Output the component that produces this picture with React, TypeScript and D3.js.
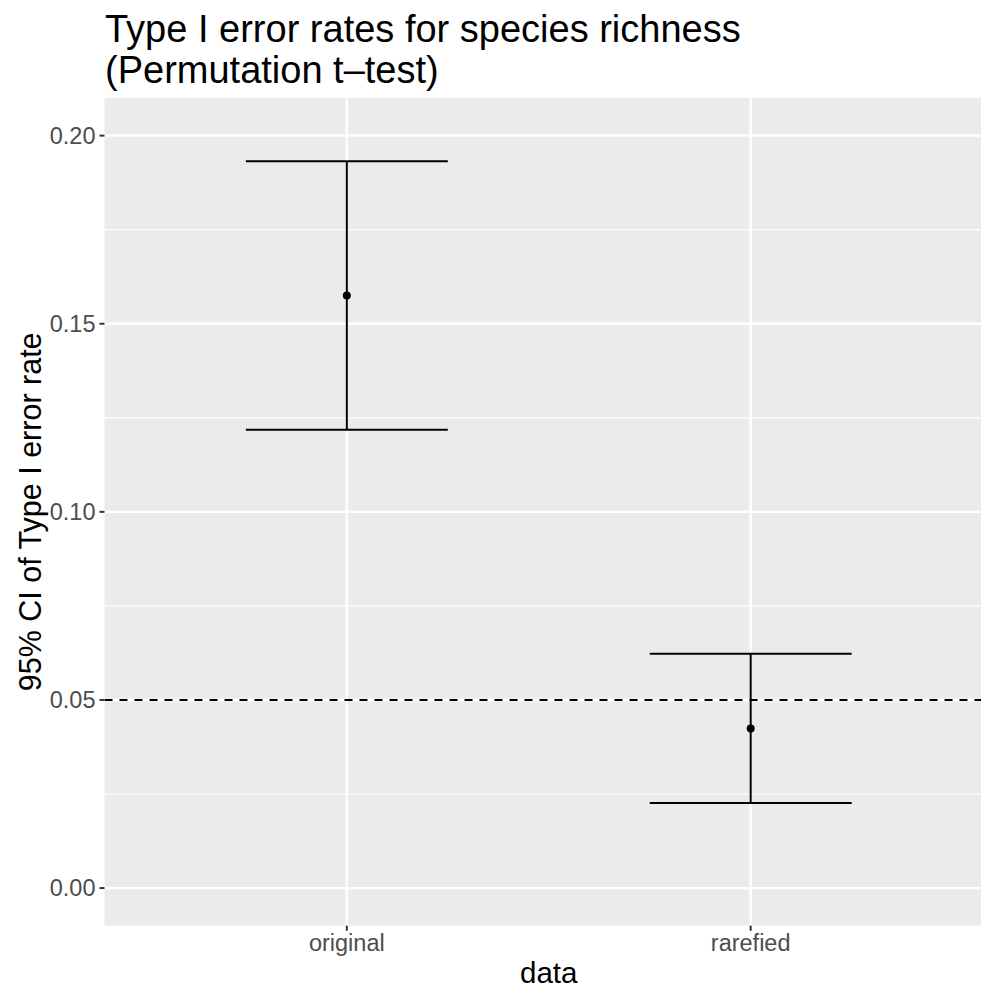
import React, { useEffect } from "react";
import * as d3 from "d3";

const categories = ["original", "rarefied"];
const estimates = [0.1575, 0.0424];
const lowerCI = [0.1218, 0.0226];
const upperCI = [0.1932, 0.0623];
const yTicks = [0, 0.05, 0.1, 0.15, 0.2];
const yMinorTicks = [0.025, 0.075, 0.125, 0.175];
const threshold = 0.05;
const titleLines = ["Type I error rates for species richness", "(Permutation t\u2013test)"];
const xLabel = "data";
const yLabel = "95% CI of Type I error rate";

const W = 981;
const H = 988;
const panel = { left: 104.5, right: 993, top: 98, bottom: 925.7 };
const FONT = "'Liberation Sans', Arial, Helvetica, sans-serif";

export default function App() {
  useEffect(() => {
    document.body.style.margin = "0";
  }, []);

  const x = d3.scaleLinear().domain([0.4, 2.6]).range([panel.left, panel.right]);
  const y = d3.scaleLinear().domain([-0.01, 0.21]).range([panel.bottom, panel.top]);
  const fmt = d3.format(".2f");
  const halfW = 0.25;

  return (
    <svg width={W} height={H} style={{ position: "absolute", left: 0, top: 0, background: "#fff" }} fontFamily={FONT}>
      <defs>
        <clipPath id="panelClip">
          <rect x={panel.left} y={panel.top} width={panel.right - panel.left} height={panel.bottom - panel.top} />
        </clipPath>
      </defs>
      <rect x={0} y={0} width={W} height={H} fill="#ffffff" />
      <rect x={panel.left} y={panel.top} width={panel.right - panel.left} height={panel.bottom - panel.top} fill="#EBEBEB" />
      <g clipPath="url(#panelClip)">
        {yMinorTicks.map((t) => (
          <line key={"mn" + t} x1={panel.left} x2={panel.right} y1={y(t)} y2={y(t)} stroke="#fff" strokeWidth={1.2} />
        ))}
        {yTicks.map((t) => (
          <line key={"mj" + t} x1={panel.left} x2={panel.right} y1={y(t)} y2={y(t)} stroke="#fff" strokeWidth={2.4} />
        ))}
        {categories.map((c, i) => (
          <line key={"vx" + c} x1={x(i + 1)} x2={x(i + 1)} y1={panel.top} y2={panel.bottom} stroke="#fff" strokeWidth={2.4} />
        ))}
        <line x1={panel.left} x2={panel.right} y1={y(threshold)} y2={y(threshold)} stroke="#000" strokeWidth={2} strokeDasharray="8 7" />
        {categories.map((c, i) => (
          <g key={"eb" + c} stroke="#000" strokeWidth={2} fill="none">
            <line x1={x(i + 1 - halfW)} x2={x(i + 1 + halfW)} y1={y(upperCI[i])} y2={y(upperCI[i])} />
            <line x1={x(i + 1 - halfW)} x2={x(i + 1 + halfW)} y1={y(lowerCI[i])} y2={y(lowerCI[i])} />
            <line x1={x(i + 1)} x2={x(i + 1)} y1={y(upperCI[i])} y2={y(lowerCI[i])} />
          </g>
        ))}
        {categories.map((c, i) => (
          <circle key={"pt" + c} cx={x(i + 1)} cy={y(estimates[i])} r={4} fill="#000" />
        ))}
      </g>
      {yTicks.map((t) => (
        <g key={"yt" + t}>
          <line x1={panel.left - 5} x2={panel.left} y1={y(t)} y2={y(t)} stroke="#333" strokeWidth={2} />
          <text x={panel.left - 9} y={y(t)} dy="0.35em" textAnchor="end" fontSize={23.5} fill="#4D4D4D">
            {fmt(t)}
          </text>
        </g>
      ))}
      {categories.map((c, i) => (
        <g key={"xt" + c}>
          <line x1={x(i + 1)} x2={x(i + 1)} y1={panel.bottom} y2={panel.bottom + 5} stroke="#333" strokeWidth={2} />
          <text x={x(i + 1)} y={951} textAnchor="middle" fontSize={23.5} fill="#4D4D4D">
            {c}
          </text>
        </g>
      ))}
      <text x={(panel.left + panel.right) / 2} y={983} textAnchor="middle" fontSize={29.5} fill="#000">
        {xLabel}
      </text>
      <text transform={`translate(41, ${(panel.top + panel.bottom) / 2}) rotate(-90)`} textAnchor="middle" fontSize={30.5} fill="#000">
        {yLabel}
      </text>
      {titleLines.map((l, i) => (
        <text key={"tt" + i} x={105} y={42 + i * 41} fontSize={38} fill="#000">
          {l}
        </text>
      ))}
    </svg>
  );
}
